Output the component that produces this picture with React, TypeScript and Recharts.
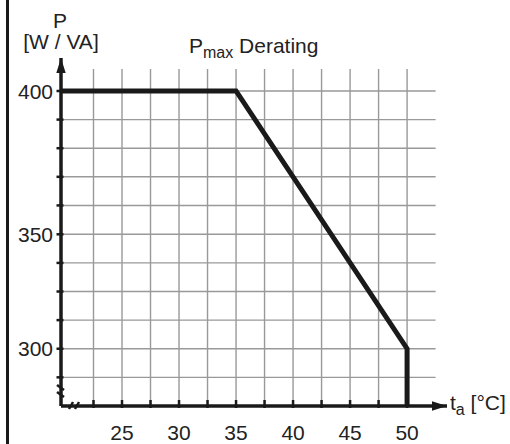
import { LineChart, Line, XAxis, YAxis, ReferenceLine, ReferenceDot } from "recharts";

const FONT = "'Liberation Sans', Arial, Helvetica, sans-serif";
const INK = "#1a1a1a";
const GRID = "#999999";

// axis extents (the axes run a bit past the grid, up to the arrow tips)
const X_MIN = 19.65;
const X_MAX = 53.5;
const Y_MIN = 277.78;
const Y_MAX = 412.8;
const GRID_TOP = 408.5;
const GRID_RIGHT = 52.5;

const X_GRID = [22.5, 25, 27.5, 30, 32.5, 35, 37.5, 40, 42.5, 45, 47.5, 50];
const X_LABELS = [25, 30, 35, 40, 45, 50];
const Y_GRID = [288.9, 300, 311.1, 322.2, 333.3, 344.4, 355.6, 366.7, 377.8, 388.9, 400];
// the drawing labels its grid rows like this (not quite linear)
const Y_LABELS: Record<string, string> = { "300": "300", "344.4": "350", "400": "400" };

// derating curve
const temps = [X_MIN, 35, 50, 50];
const power = [400, 400, 300, Y_MIN];

const data = temps.map((t, i) => ({ t, p: power[i] }));

function XTick(props: any) {
    const { x, y, payload } = props;
    const v = payload.value;
    return (
        <g>
            <line x1={x} y1={y - 6} x2={x} y2={y + 2} stroke={INK} strokeWidth={2.5} />
            {X_LABELS.includes(v) && (
                <text x={x} y={y + 34} textAnchor="middle" fontSize={21} fontFamily={FONT} fill="#222">
                    {v}
                </text>
            )}
        </g>
    );
}

function YTick(props: any) {
    const { x, y, payload } = props;
    const label = Y_LABELS[String(payload.value)];
    return (
        <g>
            <line x1={x - 4.5} y1={y} x2={x + 2.5} y2={y} stroke={INK} strokeWidth={2.5} />
            {label && (
                <text x={x - 8} y={y} dy="0.36em" textAnchor="end" fontSize={21} fontFamily={FONT} fill="#222">
                    {label}
                </text>
            )}
        </g>
    );
}

function BreakMarks(props: any) {
    const { cx, cy } = props;
    return (
        <g stroke={INK} strokeWidth={2.5}>
            <line x1={cx - 4} y1={cy - 21} x2={cx + 3} y2={cy - 16} />
            <line x1={cx - 4} y1={cy - 14} x2={cx + 3} y2={cy - 9} />
            <line x1={cx + 8} y1={cy + 3} x2={cx + 12} y2={cy - 4} />
            <line x1={cx + 14} y1={cy + 3} x2={cx + 18} y2={cy - 4} />
        </g>
    );
}

export default function App() {
    return (
        <div style={{ position: "absolute", left: 0, top: 0, width: 510, height: 444, background: "#fff" }}>
            <div style={{ position: "absolute", left: 6, top: 0, width: 2.5, height: 444, background: INK }} />
            <LineChart
                width={510}
                height={444}
                data={data}
                margin={{ top: 58, right: 63, bottom: 8, left: 0 }}
                style={{ fontFamily: FONT }}
            >
                <defs>
                    <marker
                        id="arrowHead"
                        markerUnits="userSpaceOnUse"
                        markerWidth={16}
                        markerHeight={12}
                        refX={15}
                        refY={6}
                        orient="auto-start-reverse"
                    >
                        <path d="M0,1.3 L15,6 L0,10.7 Z" fill={INK} />
                    </marker>
                </defs>

                {X_GRID.map((v) => (
                    <ReferenceLine
                        key={"vx" + v}
                        segment={[{ x: v, y: Y_MIN }, { x: v, y: GRID_TOP }]}
                        stroke={GRID}
                        strokeWidth={1.4}
                    />
                ))}
                {Y_GRID.map((v) => (
                    <ReferenceLine
                        key={"hy" + v}
                        segment={[{ x: X_MIN, y: v }, { x: GRID_RIGHT, y: v }]}
                        stroke={GRID}
                        strokeWidth={1.4}
                    />
                ))}

                <XAxis
                    type="number"
                    dataKey="t"
                    domain={[X_MIN, X_MAX]}
                    ticks={X_GRID}
                    interval={0}
                    allowDataOverflow
                    height={30}
                    tickSize={0}
                    tickMargin={0}
                    tickLine={false}
                    tick={<XTick />}
                    axisLine={{ stroke: INK, strokeWidth: 3.5, markerEnd: "url(#arrowHead)" }}
                />
                <YAxis
                    type="number"
                    domain={[Y_MIN, Y_MAX]}
                    ticks={Y_GRID}
                    interval={0}
                    allowDataOverflow
                    width={61}
                    tickSize={0}
                    tickMargin={0}
                    tickLine={false}
                    tick={<YTick />}
                    axisLine={{ stroke: INK, strokeWidth: 3.5, markerStart: "url(#arrowHead)" }}
                />

                <Line
                    type="linear"
                    dataKey="p"
                    stroke={INK}
                    strokeWidth={5}
                    strokeLinejoin="miter"
                    dot={false}
                    isAnimationActive={false}
                />

                <ReferenceDot x={X_MIN} y={Y_MIN} r={0} ifOverflow="visible" shape={<BreakMarks />} />

                <text x={60} y={28} textAnchor="middle" fontSize={21} fontFamily={FONT} fill="#222">
                    P
                </text>
                <text x={61} y={49} textAnchor="middle" fontSize={21} fontFamily={FONT} fill="#222">
                    [W / VA]
                </text>
                <text x={189} y={53} fontSize={21} fontFamily={FONT} fill="#222">
                    P
                    <tspan fontSize={16} dy={5}>max</tspan>
                    <tspan dy={-5}> Derating</tspan>
                </text>
                <text x={450} y={410} fontSize={21} fontFamily={FONT} fill="#222">
                    t
                    <tspan fontSize={16} dy={5}>a</tspan>
                    <tspan dy={-5}> [°C]</tspan>
                </text>
            </LineChart>
        </div>
    );
}
